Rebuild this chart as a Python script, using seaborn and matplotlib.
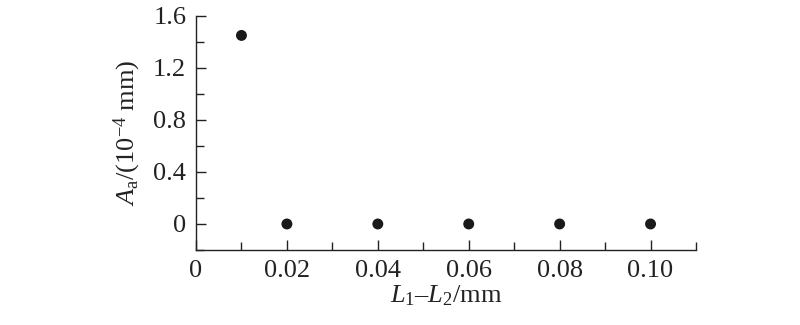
import pandas as pd
import matplotlib
matplotlib.use('Agg')
import matplotlib.pyplot as plt
import seaborn as sns
from matplotlib import font_manager
from matplotlib.ticker import MultipleLocator, FixedFormatter, FixedLocator

# ===== 資料 =====
diff_L = [0.01, 0.02, 0.04, 0.06, 0.08, 0.10]
amp_A = [1.45, 0.0, 0.0, 0.0, 0.0, 0.0]
x_ticks = [0, 0.02, 0.04, 0.06, 0.08, 0.10]
x_labels = ['0', '0.02', '0.04', '0.06', '0.08', '0.10']
y_ticks = [0, 0.4, 0.8, 1.2, 1.6]
y_labels = ['0', '0.4', '0.8', '1.2', '1.6']

df = pd.DataFrame({'diff': diff_L, 'amp': amp_A})

# 字型設定 (set_style 之後再設)；先確認字型已載入
sns.set_style('ticks')
for path in [font_manager.findfont('Liberation Serif'),
             font_manager.findfont(font_manager.FontProperties(family='Liberation Serif', style='italic'))]:
    if 'Liberation' in path:
        font_manager.fontManager.addfont(path)
plt.rcParams['font.family'] = 'serif'
plt.rcParams['font.serif'] = ['Liberation Serif', 'DejaVu Serif']
plt.rcParams['mathtext.fontset'] = 'custom'
plt.rcParams['mathtext.rm'] = 'Liberation Serif'
plt.rcParams['mathtext.it'] = 'Liberation Serif:italic'

fig = plt.figure(figsize=(8, 3.25), dpi=100)
ax = fig.add_axes([0.245, 0.2308, 0.625, 0.7202])

sns.scatterplot(data=df, x='diff', y='amp', ax=ax, color='#1a1a1a',
                s=62, edgecolor='none', legend=False, zorder=3)

ax.set_xlim(0, 0.11)
ax.set_ylim(-0.2, 1.6)
ax.xaxis.set_major_locator(FixedLocator(x_ticks))
ax.xaxis.set_major_formatter(FixedFormatter(x_labels))
ax.xaxis.set_minor_locator(MultipleLocator(0.01))
ax.yaxis.set_major_locator(FixedLocator(y_ticks))
ax.yaxis.set_major_formatter(FixedFormatter(y_labels))
ax.yaxis.set_minor_locator(MultipleLocator(0.2))

ax.tick_params(which='both', direction='in', width=1.0, color='#222222',
               labelsize=19, labelcolor='#222222')
ax.tick_params(which='major', length=7, pad=7)
ax.tick_params(which='minor', length=6)

for side in ['top', 'right']:
    ax.spines[side].set_visible(False)
for side in ['left', 'bottom']:
    ax.spines[side].set_linewidth(1.0)
    ax.spines[side].set_color('#222222')

ax.set_xlabel(r'$L_1$–$L_2$/mm', fontsize=19, color='#222222', labelpad=1)
ax.set_ylabel(r'$A_{\rm a}$/(10$^{-4}$ mm)', fontsize=19, color='#222222', labelpad=7)

fig.savefig('out.png', dpi=100)
